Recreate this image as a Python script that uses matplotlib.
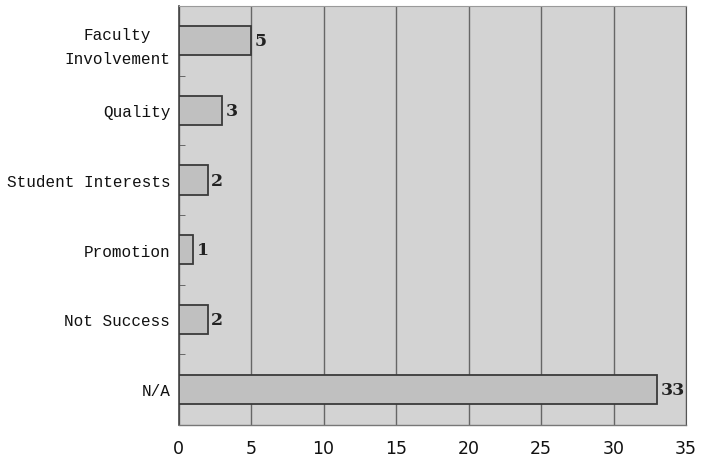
import matplotlib
matplotlib.use("Agg")
import matplotlib.pyplot as plt
from matplotlib.ticker import FixedLocator

categories = ["Faculty\nInvolvement", "Quality", "Student Interests",
              "Promotion", "Not Success", "N/A"]
counts = [5, 3, 2, 1, 2, 33]
x_ticks = [0, 5, 10, 15, 20, 25, 30, 35]

fig = plt.figure(figsize=(7.03, 4.60), dpi=100)
ax = fig.add_axes([0.254, 0.073, 0.722, 0.912])

bg = "#d3d3d3"
bar_fill = "#c0c0c0"
edge = "#3a3a3a"

ax.set_facecolor(bg)
pos = list(range(len(categories)))
ax.barh(pos, counts, height=0.42, color=bar_fill, edgecolor=edge,
        linewidth=1.3, zorder=3)

for p, v in zip(pos, counts):
    ax.text(v + 0.25, p, str(v), va="center", ha="left",
            fontsize=12.5, fontweight="bold", family="DejaVu Serif",
            color="#222222", zorder=4)

ax.set_xlim(0, 35)
ax.set_ylim(len(categories) - 0.48, -0.5)
ax.set_xticks(x_ticks)
ax.set_xticklabels([str(t) for t in x_ticks], family="DejaVu Sans",
                   fontsize=12.5)
ax.tick_params(axis="x", length=0, pad=10, colors="#111111")

ax.set_yticks(pos)
ax.set_yticklabels(categories, family="Liberation Mono", fontsize=11.5,
                   linespacing=1.75, multialignment="center")
ax.tick_params(axis="y", which="major", length=0, pad=6, colors="#111111")
ax.yaxis.set_minor_locator(FixedLocator([p + 0.5 for p in pos[:-1]]))
ax.tick_params(axis="y", which="minor", direction="in", length=4,
               color="#555555")

ax.xaxis.grid(True, color="#666666", linewidth=1.0, zorder=1)
ax.set_axisbelow(True)

ax.spines["left"].set_color("#444444")
ax.spines["left"].set_linewidth(1.2)
ax.spines["right"].set_color("#555555")
ax.spines["top"].set_color("#9a9a9a")
ax.spines["bottom"].set_color("#777777")
ax.spines["top"].set_linewidth(0.8)
ax.spines["bottom"].set_linewidth(1.0)

fig.savefig("out.png", dpi=100, facecolor="white")
